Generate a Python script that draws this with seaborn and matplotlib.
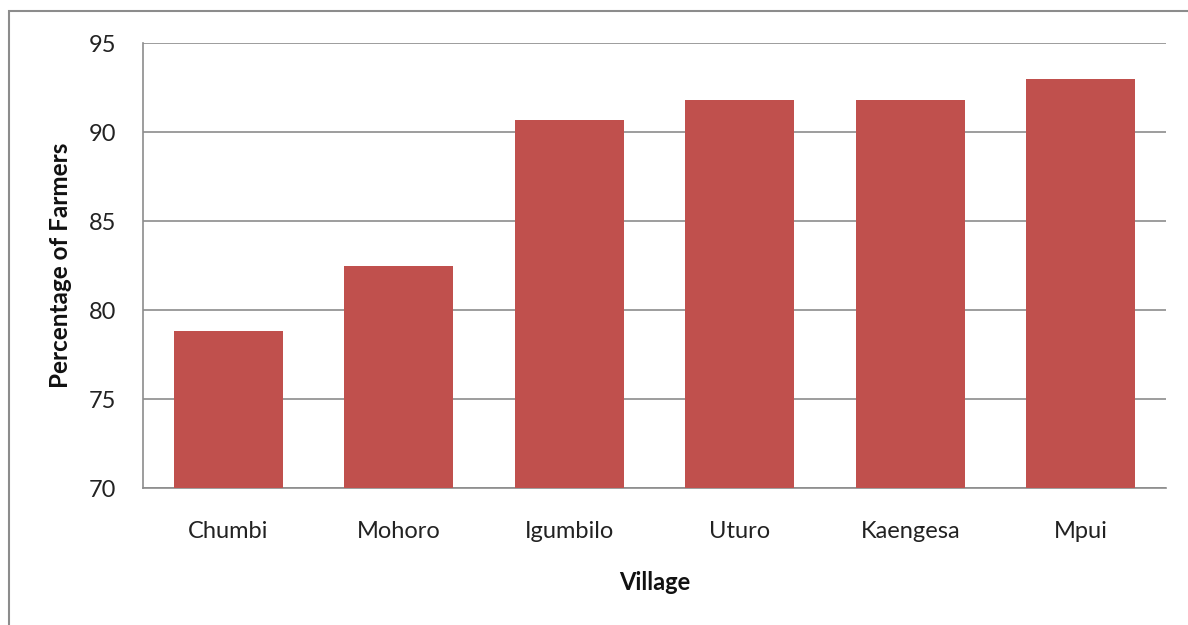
import matplotlib
matplotlib.use("Agg")
import matplotlib.pyplot as plt
import seaborn as sns
import pandas as pd
from matplotlib.patches import Rectangle

villages = ["Chumbi", "Mohoro", "Igumbilo", "Uturo", "Kaengesa", "Mpui"]
percentages = [78.8, 82.5, 90.7, 91.8, 91.8, 93.0]
yticks = [70, 75, 80, 85, 90, 95]

sns.set_theme(style="white")
plt.rcParams['font.family'] = ['Lato', 'DejaVu Sans']

df = pd.DataFrame({"Village": villages, "Pct": percentages})

fig = plt.figure(figsize=(11.88, 6.25), dpi=100)
ax = fig.add_axes([143/1188, 1-488/625, (1166-143)/1188, (488-43)/625])

sns.barplot(data=df, x="Village", y="Pct", color="#C0504D", saturation=1,
            width=0.64, ax=ax, edgecolor="none", zorder=3)

ax.set_ylim(70, 95)
ax.set_yticks(yticks)
ax.set_yticklabels([str(t) for t in yticks], fontsize=17, color="#222222")
ax.tick_params(axis="y", length=0, pad=19)
ax.tick_params(axis="x", length=0, pad=24, labelsize=17, labelcolor="#222222")
ax.grid(axis="y", color="#8c8c8c", linewidth=1.2, zorder=0)
ax.set_axisbelow(True)

for s in ["top", "right"]:
    ax.spines[s].set_visible(False)
for s in ["left", "bottom"]:
    ax.spines[s].set_color("#8c8c8c")
    ax.spines[s].set_linewidth(1.2)

ax.set_xlabel("Village", fontsize=17, fontweight="bold", color="#111111")
ax.set_ylabel("Percentage of Farmers", fontsize=17.5, fontweight="bold", color="#111111")
ax.yaxis.set_label_coords((60 - 143) / 1023, 0.5)
ax.xaxis.set_label_coords(0.5, -(582 - 488) / 445)
ax.xaxis.label.set_va("center")
ax.yaxis.label.set_va("center")

fig.patches.append(Rectangle((9/1188, -0.05), 1.2, 1-11/625+0.05, transform=fig.transFigure,
                             fill=False, edgecolor="#8c8c8c", linewidth=1.5))

fig.savefig("out.png", dpi=100)
